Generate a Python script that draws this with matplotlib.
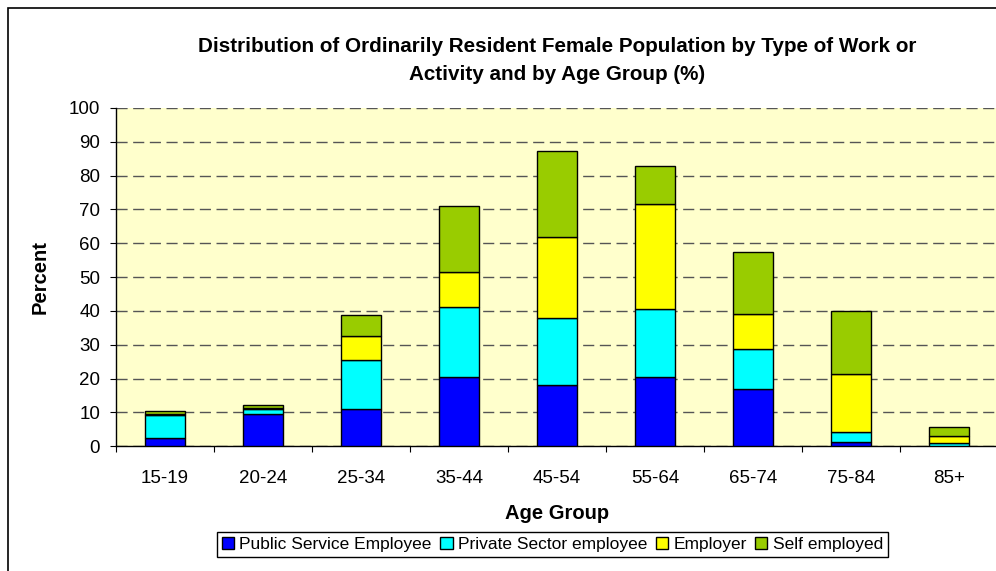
import matplotlib
matplotlib.use("Agg")
import matplotlib.pyplot as plt
import numpy as np
from matplotlib.patches import Rectangle

plt.rcParams['font.family'] = ['Liberation Sans', 'DejaVu Sans']

# Data
age_groups = ['15-19', '20-24', '25-34', '35-44', '45-54', '55-64', '65-74', '75-84', '85+']
public_service = [2.4, 9.6, 10.9, 20.4, 18.0, 20.4, 16.8, 1.2, 0.2]
private_sector = [6.8, 1.4, 14.7, 20.9, 19.8, 20.3, 12.0, 3.0, 0.7]
employer = [0.2, 0.2, 6.9, 10.3, 24.2, 31.0, 10.3, 17.3, 2.1]
self_employed = [1.1, 0.9, 6.2, 19.5, 25.2, 11.1, 18.2, 18.4, 2.8]

series = [
    ('Public Service Employee', public_service, '#0000FF'),
    ('Private Sector employee', private_sector, '#00FFFF'),
    ('Employer', employer, '#FFFF00'),
    ('Self employed', self_employed, '#99CC00'),
]

fig = plt.figure(figsize=(9.96, 5.71), dpi=100)
ax = fig.add_axes([116/996, 1 - 446.3/571, 882/996, 338.3/571])
ax.set_facecolor('#FFFFCC')

x = np.arange(len(age_groups))
bottom = np.zeros(len(age_groups))
for name, vals, col in series:
    ax.bar(x, vals, 0.4, bottom=bottom, color=col, edgecolor='black',
           linewidth=1, label=name, zorder=3)
    bottom += np.array(vals)

ax.set_xlim(-0.5, 8.5)
ax.set_ylim(0, 100)
ax.set_yticks(range(0, 101, 10))
# category boundaries get the tick marks, labels sit in the middle
ax.set_xticks(np.arange(-0.5, 9, 1))
ax.set_xticklabels([])
ax.set_xticks(x, minor=True)
ax.set_xticklabels(age_groups, minor=True)
ax.tick_params(axis='x', which='minor', length=0, pad=17, labelsize=13.5)
ax.tick_params(axis='x', which='major', length=4.5, direction='out')
ax.tick_params(axis='y', length=4.5, direction='out', labelsize=13.5, pad=7)

ax.yaxis.grid(True, linestyle=(0, (8, 4)), color='#555555', linewidth=1, zorder=1)
ax.set_axisbelow(True)
for s in ['top', 'right']:
    ax.spines[s].set_visible(False)
for s in ['left', 'bottom']:
    ax.spines[s].set_linewidth(1)

ax.set_xlabel('Age Group', fontsize=14.5, fontweight='bold', labelpad=12)
ax.set_ylabel('Percent', fontsize=14.5, fontweight='bold', labelpad=14)

fig.text(0.5592, 1 - 46/571, 'Distribution of Ordinarily Resident Female Population by Type of Work or',
         ha='center', va='center', fontsize=14.9, fontweight='bold')
fig.text(0.5592, 1 - 75/571, 'Activity and by Age Group (%)',
         ha='center', va='center', fontsize=14.9, fontweight='bold')

leg = fig.legend(loc='center', bbox_to_anchor=(552.5/996, 1 - 544.5/571), ncol=4,
                 fontsize=12.5, frameon=True, fancybox=False, edgecolor='black',
                 framealpha=1, handlelength=0.7, handleheight=0.7, handletextpad=0.3,
                 columnspacing=0.5, borderpad=0.3, borderaxespad=0)
leg.get_frame().set_linewidth(1)

# outer chart frame
fig.patches.append(Rectangle((8/996, -0.05), 1.2, 1 - 8/571 + 0.05,
                             transform=fig.transFigure, fill=False,
                             edgecolor='black', linewidth=1.2))

fig.savefig('out.png', dpi=100)
